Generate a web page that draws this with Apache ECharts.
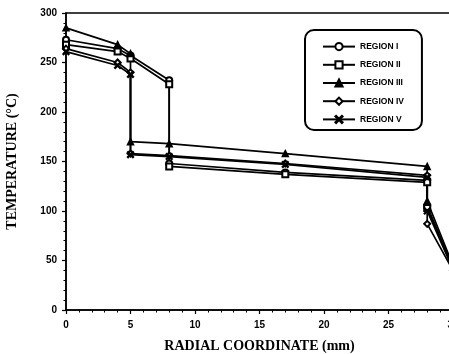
<!DOCTYPE html>
<html>
<head>
<meta charset="utf-8">
<script src="https://cdn.jsdelivr.net/npm/echarts@6/dist/echarts.min.js"></script>
<style>
    html, body {margin: 0; padding: 0; background: #fff;}
    #main {width: 449px; height: 354px;}
</style>
</head>
<body>
<div id="main"></div>
<script>
// radial coordinate (mm) for each region, the repeated x is the step down
var xRegion1 = [0, 4, 5, 8, 8, 17, 28, 28, 30];
var yRegion1 = [273, 264, 257, 232, 148, 139, 131, 105, 43];
var xRegion2 = [0, 4, 5, 8, 8, 17, 28, 28, 30];
var yRegion2 = [268, 261, 254, 228, 145, 137, 129, 103, 42];
var xRegion3 = [0, 4, 5, 5, 8, 17, 28, 28, 30];
var yRegion3 = [285, 268, 259, 170, 168, 158, 145, 110, 45];
var xRegion4 = [0, 4, 5, 5, 8, 17, 28, 28, 30];
var yRegion4 = [264, 250, 240, 158, 156, 148, 136, 87, 40];
var xRegion5 = [0, 4, 5, 5, 8, 17, 28, 28, 30];
var yRegion5 = [261, 247, 238, 157, 155, 147, 134, 100, 41];

var regionNames = ['REGION I', 'REGION II', 'REGION III', 'REGION IV', 'REGION V'];
var crossIcon = 'path://M0,1L1,0L5,4L9,0L10,1L6,5L10,9L9,10L5,6L1,10L0,9L4,5Z';
var symbols = ['emptyCircle', 'emptyRect', 'triangle', 'emptyDiamond', crossIcon];

var pairs = function (xs, ys) {
    return xs.map(function (x, i) {
        return [x, ys[i]];
    });
};

var regions = [
    pairs(xRegion1, yRegion1),
    pairs(xRegion2, yRegion2),
    pairs(xRegion3, yRegion3),
    pairs(xRegion4, yRegion4),
    pairs(xRegion5, yRegion5)
];

var myChart = echarts.init(document.getElementById('main'));

var tickFont = {
    color: '#000',
    fontFamily: 'Liberation Sans',
    fontWeight: 'bold',
    fontSize: 10
};

var option = {
    animation: false,
    backgroundColor: '#fff',
    grid: {
        left: 66,
        top: 13,
        right: -4,
        bottom: 44,
        outerBoundsMode: 'none',
        containLabel: false,
        show: true,
        borderColor: '#000',
        borderWidth: 1.5
    },
    legend: {
        orient: 'vertical',
        left: 305,
        top: 30,
        padding: [12, 18, 6, 17],
        itemWidth: 32,
        itemHeight: 9,
        itemGap: 9,
        borderColor: '#000',
        borderWidth: 2,
        borderRadius: 9,
        textStyle: {
            color: '#000',
            fontFamily: 'Liberation Sans',
            fontWeight: 'bold',
            fontSize: 8.5
        },
        data: regionNames
    },
    xAxis: {
        type: 'value',
        min: 0,
        max: 30,
        interval: 5,
        name: 'RADIAL COORDINATE (mm)',
        nameLocation: 'middle',
        nameGap: 29,
        nameTextStyle: {
            color: '#000',
            fontFamily: 'Liberation Serif',
            fontWeight: 'bold',
            fontSize: 14
        },
        axisLine: {lineStyle: {color: '#000', width: 1.5}},
        axisTick: {length: 4, lineStyle: {color: '#000', width: 1.2}},
        minorTick: {show: true, splitNumber: 5, length: 2.5, lineStyle: {color: '#000', width: 1}},
        axisLabel: Object.assign({margin: 10}, tickFont),
        splitLine: {show: false}
    },
    yAxis: {
        type: 'value',
        min: 0,
        max: 300,
        interval: 50,
        name: 'TEMPERATURE (°C)',
        nameLocation: 'middle',
        nameGap: 47,
        nameTextStyle: {
            color: '#000',
            fontFamily: 'Liberation Serif',
            fontWeight: 'bold',
            fontSize: 14
        },
        axisLine: {show: true, lineStyle: {color: '#000', width: 1.5}},
        axisTick: {show: true, length: 4, lineStyle: {color: '#000', width: 1.2}},
        minorTick: {show: true, splitNumber: 5, length: 2.5, lineStyle: {color: '#000', width: 1}},
        axisLabel: Object.assign({margin: 9}, tickFont),
        splitLine: {show: false}
    },
    series: regions.map(function (data, i) {
        return {
            name: regionNames[i],
            type: 'line',
            data: data,
            symbol: symbols[i],
            symbolSize: 6,
            color: '#000',
            lineStyle: {color: '#000', width: 1.7},
            itemStyle: {color: '#000', borderColor: '#000', borderWidth: 1.5}
        };
    })
};

myChart.setOption(option);
</script>
</body>
</html>
